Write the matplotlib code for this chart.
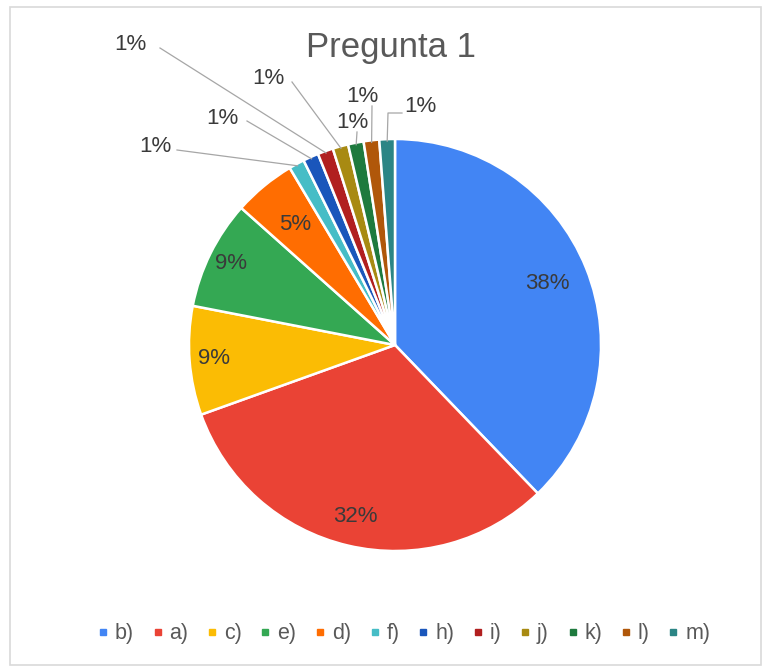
import matplotlib
matplotlib.use("Agg")
import matplotlib.pyplot as plt
from matplotlib.lines import Line2D
import numpy as np

plt.rcParams['font.family'] = ['Liberation Sans', 'DejaVu Sans']

# answers to "Pregunta 1" (counts per option)
categories = ['b)', 'a)', 'c)', 'e)', 'd)', 'f)', 'h)', 'i)', 'j)', 'k)', 'l)', 'm)']
counts = [31, 26, 7, 7, 4, 1, 1, 1, 1, 1, 1, 1]
colors = ['#4285F4', '#EA4335', '#FBBC04', '#34A853', '#FF6D01', '#46BDC6',
          '#1A56BB', '#B11F1F', '#A88A12', '#1E7A3E', '#B0570A', '#2B8585']

W, H = 765, 668
fig = plt.figure(figsize=(W / 100, H / 100), dpi=100)
ax = fig.add_axes([0, 0, 1, 1])

cx, cy, R = 395, H - 345, 206
wedges, _ = ax.pie(counts, colors=colors, startangle=90, counterclock=False,
                   center=(cx, cy), radius=R,
                   wedgeprops=dict(edgecolor='white', linewidth=1.8))
ax.set_xlim(0, W)
ax.set_ylim(0, H)
ax.set_aspect('equal')
ax.axis('off')

# outer frame of the chart
ax.add_patch(plt.Rectangle((10, 3), W - 14, H - 10, fill=False,
                           edgecolor='#d9d9d9', linewidth=1.2))

ax.text(391, H - 48, 'Pregunta 1', ha='center', va='center',
        fontsize=25, color='#595959')

total = sum(counts)
pcts = ['%d%%' % round(100 * c / total) for c in counts]
lab_col = '#3a3a3a'

# labels inside the big slices (distance from centre, as fraction of R)
inside_dist = [0.80, 0.855, 0.88, 0.89, 0.76]
for i, d in enumerate(inside_dist):
    w = wedges[i]
    ang = np.radians((w.theta1 + w.theta2) / 2)
    ax.text(cx + d * R * np.cos(ang), cy + d * R * np.sin(ang), pcts[i],
            ha='center', va='center', fontsize=16, color=lab_col)

# small slices: label position and leader line elbows (pixel coords from top)
outside = {
    5: ((155, 147), [(177, 150)]),
    6: ((222, 118), [(247, 121)]),
    7: ((130, 45), [(160, 48)]),
    8: ((268, 78), [(292, 82)]),
    9: ((352, 123), [(357, 132)]),
    10: ((362, 97), [(372, 106)]),
    11: ((420, 107), [(388, 113), (402, 113)]),
}
for i, (tpos, elbows) in outside.items():
    w = wedges[i]
    ang = np.radians((w.theta1 + w.theta2) / 2)
    px = [cx + (R - 2) * np.cos(ang)] + [e[0] for e in elbows]
    py = [cy + (R - 2) * np.sin(ang)] + [H - e[1] for e in elbows]
    ax.plot(px, py, color='#a6a6a6', linewidth=0.9)
    ax.text(tpos[0], H - tpos[1], pcts[i], ha='center', va='center',
            fontsize=16, color=lab_col)

handles = [Line2D([], [], linestyle='none', marker='s', markersize=4.5,
                  markerfacecolor=c, markeredgecolor=c) for c in colors]
fig.legend(handles, categories, loc='center', ncol=len(categories),
           bbox_to_anchor=(405 / W, 1 - 634 / H), frameon=False,
           fontsize=15.5, handlelength=0.3, handletextpad=0.4,
           columnspacing=0.95, labelcolor='#595959')

fig.savefig('out.png', dpi=100)
